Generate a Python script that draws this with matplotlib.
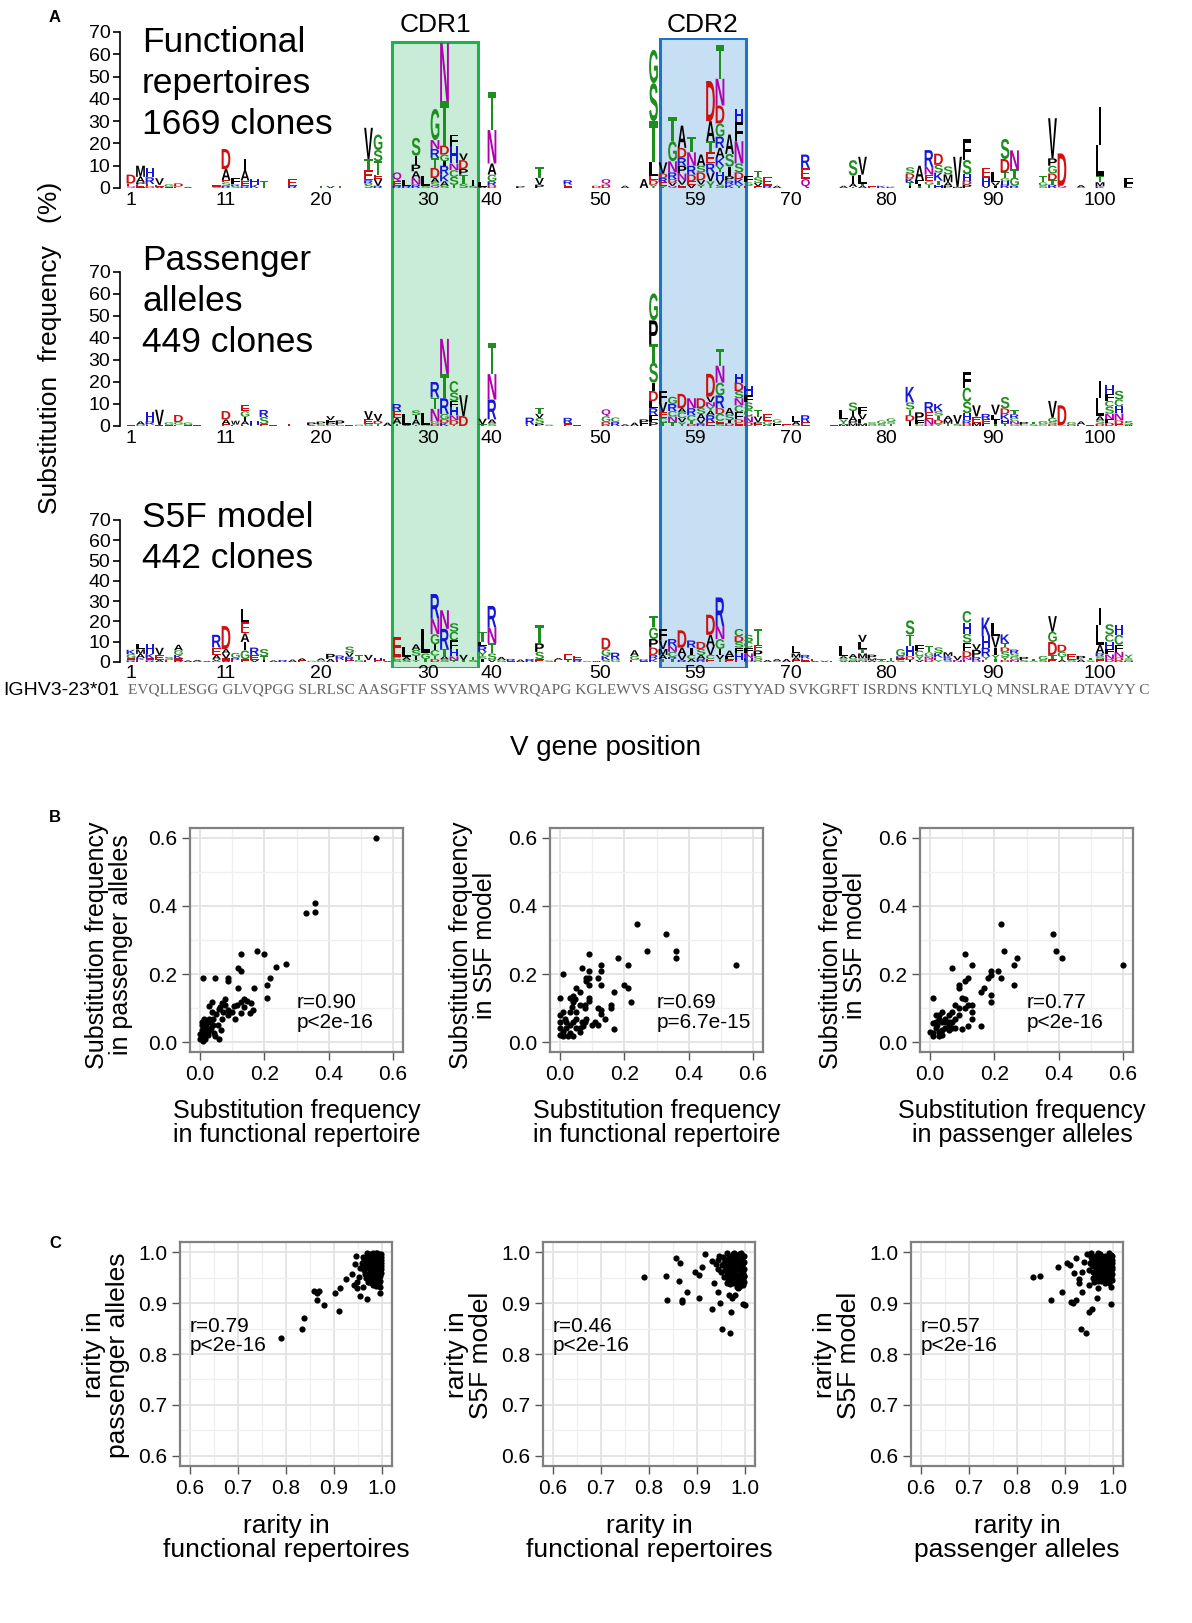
import matplotlib
matplotlib.use("Agg")
import matplotlib.pyplot as plt
from matplotlib.font_manager import FontProperties
from matplotlib.patches import PathPatch, Rectangle
from matplotlib.textpath import TextPath
from matplotlib.transforms import Affine2D
from matplotlib.ticker import MultipleLocator

plt.rcParams["font.family"] = ["Liberation Sans", "DejaVu Sans"]

W, H = 1192, 1623

# ---------------- panel A: substitution logos ----------------
# column -> stacked letters, bottom to top, letter + height in %
functional = {
    1: "Q0.8 E1.2 D4", 2: "E1.5 P1 A2.5 M5", 3: "D0.8 E1 R3 H4", 4: "A0.6 E0.8 V3",
    5: "E0.5 G1.2", 6: "E0.6 D1.5", 7: "A0.5", 10: "S0.6 E0.6",
    11: "R1 S1.5 E1 A5 D9", 12: "S0.8 R0.8 F3", 13: "R0.8 E2.5 A4.5 I5", 14: "K1.5 H2.5",
    15: "T3", 18: "R1 E3", 21: "T1", 22: "V0.8", 23: "T1",
    26: "S2 R1.5 E4.5 T5 V14", 27: "R1 V3 E2 T6 S5 G7", 29: "R1 E2 Q4", 30: "R1 L2.5",
    31: "R1.5 N3 A3 P3 I4 S8", 32: "S1 L4.5", 33: "Q1 S1.5 A2 D4.5 T4.5 R4 N4 G14",
    34: "S1 A2 K3 R4 I2 G3 D4 T20 N26", 35: "T1.4 S3.6 C3 N3 H8 F5", 36: "S2 T4 P2.5 D4 V3",
    37: "S1 I2.5", 38: "A0.6 L2", 39: "D1 R2 G3 A5 N15 T17", 42: "P0.8", 44: "P1.5 V3 T5",
    47: "E1.5 R2", 50: "D1", 51: "D1.5 Q2.5", 53: "A1", 55: "A4",
    56: "Y1.5 D2 E2 L6 T18.5 S17 G15", 57: "Y1 E1.5 R2 D2 V5", 58: "Q1 V1.5 D1.5 R3 N5 G9 T11",
    59: "E1.5 V2 N3 P3.5 R3.5 D4.5 A10", 60: "V1.5 E1.5 D3 R4 N6 T7", 61: "Y1.5 V2 D3.5 S3 A5",
    62: "Y3 V4 R4 E5 T5 A9 D18", 63: "S1.5 V2.5 H3 Y3 K3.5 A4.5 R5 G6 D8 N12 T15",
    64: "K1.5 R1.8 P2 I4.3 S5.7 A8.7", 65: "Y1.5 K2.5 D3 S4 N10 F8.7 H5.7", 66: "E1 S1.5 F3",
    67: "E0.8 V1.5 S2.5 T3", 68: "R1 E4", 69: "A1", 72: "Q4 E5 R6", 76: "A1",
    77: "T0.5 A1.5 I3.5 S7", 78: "A1 T1 L4 V8", 79: "E0.8", 80: "K1", 81: "K0.6",
    83: "I1 T1.5 K1.8 D2.2 S2.8", 84: "T1 I1 F1.5 A6.5", 85: "T1.5 G1.5 E3 N3.5 R7.5",
    86: "H1.5 T1.8 K3.6 S3.5 D5", 87: "P1 A1.6 M3.5 S3.6", 88: "M0.5 V13.5",
    89: "P1.5 D1.8 H2.8 S6.5 F9.3", 91: "V1 H3.7 E4.3", 92: "I1 V1.5 L4.5",
    93: "R1.5 H1.5 G1.4 T2.6 D6 S9", 94: "R1 G3.7 T3.6 N8.6", 97: "S1.2 G1.3 T3",
    98: "R1.5 T2 D3 G3.5 P3.3 V18", 99: "Q1 D14.5", 101: "V0.3 A1",
    103: "K0.8 M1.8 T2.8 L14.1 I17", 106: "E0.4 F4.3",
}
passenger = {
    1: "E0.5", 2: "G0.6 A1.5", 3: "E0.6 R1.4 H4.5", 4: "E0.4 V7", 5: "E0.5 G1.2",
    6: "E0.6 G1.2 D3.2", 7: "E0.4 G1.2", 8: "E0.5", 11: "E0.8 A2.2 D3.8", 12: "E0.6 W1.8",
    13: "E0.6 A1.6 I2 G2.5 E2.7", 14: "E0.6 H1.5", 15: "E0.8 S3.3 R3.2", 16: "E0.4", 18: "E1",
    20: "A0.4 P1.2", 21: "S0.8 P1.2", 22: "G0.5 P1 F1.2 V1.8", 23: "S0.5 P2", 24: "E0.5",
    25: "G0.6", 26: "G1 E2 V3.8", 27: "T1 D1.3 V3.2", 28: "A1.5", 29: "T1 A2.6 E3.2 R3.2",
    30: "A0.4 L5.1", 31: "T0.6 A2.4 I1.9 S2.2", 32: "G0.4 L5.3", 33: "D1 G1 N5.8 T5.1 R7.1",
    34: "K1.5 D1.5 G2.5 R7.1 T11 N16", 35: "T0.6 D2 N2.3 H3.9 F2.5 S3.9 C5.2", 36: "D4.5 V9.5",
    38: "T0.8 V2.5", 39: "S1.2 A1.8 R9 N11.6 T14.2", 43: "E0.6 R3.2", 44: "P1 S2.6 V1.9 T2.6",
    45: "S0.6", 47: "E1.2 R2.5", 48: "E0.4", 51: "R0.6 D1.2 G2.6 Q3.2", 52: "R1.9 C2",
    53: "A0.8", 54: "A1.5", 55: "F1.2 P1.8",
    56: "P1.7 F3.2 R3.2 L3.2 D4.6 I3.8 S9 T8.4 P10.9 G12.3", 57: "T1.6 C2 E2.8 V4.5 F5",
    58: "T1.8 N2.5 C2.5 R3.2 G3.3", 59: "Y1.7 V1.9 C2.6 A1.9 D6.5", 60: "D1 T1.3 C2.6 R3.2 N4.5",
    61: "R1.2 V1.8 A2.5 S2.6 D4.5", 62: "E1.7 R3.2 A2 Y2 N1.9 V2.6 D10.3",
    63: "S1 E1.3 C3.2 D2.6 R5.8 G5.8 N7.7 T7.6", 64: "D1.2 I1.4 S2.6 A3",
    65: "E1.5 D1.5 F3.2 C3.2 N3.2 S3.3 D3.8 H3.9", 66: "D1.7 N2.6 C3.2 S3.2 F3.2 H4.5",
    67: "E0.8 P0.9 V2.6 T3.2", 68: "R0.5 G1.8 E3.2", 69: "F1.5 G1.5", 70: "E0.8",
    71: "S0.5 A1.5 L2.5", 72: "E1.7 R3.2", 75: "E0.5", 76: "M0.8 Y2.2 L4.5",
    77: "M1.2 P1 A2.3 I2.3 S3.9", 78: "M1.2 L1.8 V2.5 F3.3", 79: "G0.5 S1.2", 80: "S1 G1.5",
    81: "T1 S1 G1.5", 83: "I2.3 D2.6 T2.6 S3.2 K7.1", 84: "C1 F1.6 P3.6", 85: "D0.6 N2.6 E3.2 R4.5",
    86: "Y1 D1.8 T1.9 S2 K3.3", 87: "T1 M1.7 A1.9", 88: "S1 V4", 89: "D1 R1.6 H3.2 S5.2 C6.4 F7.1",
    90: "M1.5 E2.8 V5.1", 91: "L1 E2 R2.5", 92: "T1 I1.6 L2.6 V4.5", 93: "T1.2 H1.7 K2.5 D2.6 S5.2",
    94: "G0.8 N1.4 C1.3 R1.8 T2", 95: "C0.6 P1.2", 96: "S0.8 T1", 97: "C0.8 G1.5",
    98: "D0.8 S1 G1.9 V7.7", 99: "G0.4 D9", 100: "D0.6 G1.2", 101: "E0.6 A1.5", 102: "E0.5",
    103: "D1 S1.5 A1.9 L8.4 I7.7", 104: "D1.5 F1.5 N2.6 S3.2 C2.6 F3.2 H3.9",
    105: "E0.8 D1.7 N3.2 H3.2 C3.2 S3.9", 106: "W0.5 S1.8",
}
s5f = {
    1: "R0.8 E1 G2 K2.2", 2: "E1 K1 A2 M2.2 L2.8", 3: "R0.8 E1 K2.3 H5", 4: "A1 E2.5 V3.5",
    5: "E1 S1.5", 6: "R0.6 E1.2 K1.7 G2.2 A2.8", 7: "A0.8", 8: "R0.4 A0.6", 9: "A0.5",
    10: "D0.5 V0.8 A2.2 E3.6 R6.3", 11: "W0.6 E1.2 V2.4 A2.2 D11.3", 12: "E1 R1 G2.5",
    13: "E1.4 G4.3 I4.2 A4.2 E5.7 L6.4", 14: "V1 E2.5 R3.6", 15: "I1 T1.8 S3.6", 16: "A0.8",
    17: "R1", 18: "A1.2", 19: "E0.8 A1", 20: "G0.6", 21: "G0.8 A1", 22: "A1.5 P2.5",
    23: "E1 R2.2", 24: "E0.8 R1.8 V2 S3", 25: "G1 T2.5", 26: "E1 V2.5", 27: "E0.8 H1.2",
    28: "A0.5 E1", 29: "S1 C1.5 E9.9", 30: "S1 A1.5 L5", 31: "Y1 I2 S2.9 A2.8",
    32: "T1.5 G2.7 L12.1", 33: "D1.4 T1.7 C2.8 I2.8 G5 N7.7 R12.1", 34: "S1.4 A1.4 T3.6 R9.9 N9.2",
    35: "T0.8 N2 H3.6 F4.2 C4.3 S4.2", 36: "T1 V2.5", 37: "S1 T1.5",
    38: "I1.4 S1.4 Y2.2 R2.8 L2.1 T5", 39: "V1.2 S3 T5 N7.8 R10.6", 40: "G1 A1.5", 41: "E0.5 R1",
    42: "A1.2", 43: "R1.5", 44: "E1.4 S3.6 P4.2 T9.2", 45: "S0.8", 46: "E1 A1", 47: "T1.2 E2.5",
    48: "R1 E2.2", 49: "S0.5", 50: "W0.5", 51: "S1 K2 G3.3 D5.6", 52: "G1.2 R3.4", 54: "E1 G2 A2.8",
    55: "E0.5 R0.8", 56: "K1.5 R2 D3.6 P4.2 G5.7 T5.6", 57: "T1.5 A2 M2.9 V4.2 F5.7",
    58: "T1.5 R1 C2.5 N2.8 R3.5", 59: "R1 V2.5 A3.6 D8.5", 60: "A1.5 C2 I3.6 R3.5",
    61: "R1.5 A2 S2.9 D3.5", 62: "E1.5 C2 V4.3 A5.6 D9.9", 63: "T1.5 V2 I2.9 G4.9 N6.4 R14.1",
    64: "E1.3 F1.5 A2.8", 65: "E1.1 H3.1 F2.9 S2.8 D2.8 C3.6", 66: "D0.7 H1.4 N2.1 F2.9 C2.8 S3.5",
    67: "D0.7 S2.1 P2.9 E2.8 T7.8", 68: "A1", 69: "S0.5 A1", 70: "A1.5", 71: "E0.8 A1.4 M2 L3.6",
    72: "E1.7 R1.8", 73: "A0.5 E1", 74: "V0.6", 75: "E0.6", 76: "V0.6 S1.2 A1 L5",
    77: "M0.6 S1.4 A1.9", 78: "N0.8 S1 M2.4 T2.2 L3.5 V3.5", 79: "A0.8 M1 P1.8", 80: "S0.5 T0.8",
    81: "R0.5 T1.5", 82: "S0.8 E1 R1 G3.6", 83: "I1 D1.8 H5 T5.7 S7", 84: "V1 Y1.8 C2.8 F2.8",
    85: "D1.2 N1.5 G2 T3", 86: "Y1 E1.2 K2.2 S2.8", 87: "S0.8 R1 K1.2 M1.8", 88: "N1 V2",
    89: "E1 N1.4 D2.9 F4.2 S4.3 H5.6 C5.7", 90: "D0.6 R1.8 P3.6 V2.8", 91: "E1.2 Y1.5 R4.3 H5.6 K9.3",
    92: "T1.5 Y2 I3.6 V5.6 L6.4", 93: "D1 Y1.5 S2.6 D2.1 T2.1 K4.3", 94: "N1 G1.6 S1.5 R2",
    95: "S1 P1.5", 96: "S0.6 T1", 97: "S1 G2", 98: "E1.4 T2.1 D6.4 G5 V7.7", 99: "A1 T1.5 G2.5 D3.5",
    100: "S1.2 E2.6", 101: "A1.2 P1.8", 102: "S0.8 T1.4", 103: "E1.4 S1.4 R1.4 A4.2 L9.9 I8.5",
    104: "D1.5 N2.2 F2.8 H3.5 C3.6 S5", 105: "R0.6 D1.6 N2.8 F3.5 C4.9 H5", 106: "N0.6 S1.2 Y1.8",
}
logo_sets = [functional, passenger, s5f]
logo_titles = ["Functional\nrepertoires\n1669 clones", "Passenger\nalleles\n449 clones", "S5F model\n442 clones"]
pos_ticks = [1, 11, 21, 32.3, 38.9, 50.4, 60.4, 70.5, 80.5, 91.7, 103]
pos_labels = ["1", "11", "20", "30", "40", "50", "59", "70", "80", "90", "100"]
freq_ticks = [0, 10, 20, 30, 40, 50, 60, 70]
cdr_names = ["CDR1", "CDR2"]
cdr_spans = [(28.5, 37.5), (56.7, 65.7)]
germline = "EVQLLESGG GLVQPGG SLRLSC AASGFTF SSYAMS WVRQAPG KGLEWVS AISGSG GSTYYAD SVKGRFT ISRDNS KNTLYLQ MNSLRAE DTAVYY C"

# ---------------- panel B: substitution frequency scatter ----------------
b_func_vs_pass = [
    (0.548, 0.599), (0.328, 0.378), (0.356, 0.383), (0.358, 0.409), (0.178, 0.269), (0.199, 0.260),
    (0.128, 0.260), (0.267, 0.229), (0.237, 0.220), (0.118, 0.219), (0.128, 0.210), (0.219, 0.188),
    (0.207, 0.169), (0.207, 0.129), (0.168, 0.158), (0.118, 0.158), (0.008, 0.189), (0.047, 0.189),
    (0.088, 0.189), (0.088, 0.179), (0.158, 0.115), (0.164, 0.093), (0.156, 0.087), (0.128, 0.087),
    (0.108, 0.068), (0.138, 0.128), (0.126, 0.117), (0.116, 0.109), (0.078, 0.128), (0.068, 0.115),
    (0.078, 0.109), (0.098, 0.088), (0.088, 0.081), (0.068, 0.069), (0.058, 0.098), (0.037, 0.117),
    (0.027, 0.107), (0.037, 0.088), (0.027, 0.069), (0.017, 0.060), (0.007, 0.050), (0.010, 0.031),
    (0.005, 0.017), (0.015, 0.008), (0.025, 0.022), (0.035, 0.041), (0.045, 0.027), (0.058, 0.010),
    (0.047, 0.017), (0.066, 0.036), (0.027, 0.036), (0.017, 0.041), (0.005, 0.036), (0.000, 0.024),
    (0.000, 0.010), (0.010, 0.003), (0.020, 0.050), (0.030, 0.060), (0.013, 0.069), (0.005, 0.060),
    (0.040, 0.069), (0.050, 0.084), (0.061, 0.103), (0.086, 0.093), (0.071, 0.088), (0.106, 0.107),
    (0.146, 0.122), (0.136, 0.103), (0.025, 0.031), (0.040, 0.050), (0.055, 0.050), (0.015, 0.020),
]
b_func_vs_s5f = [
    (0.548, 0.228), (0.240, 0.348), (0.331, 0.319), (0.361, 0.269), (0.361, 0.248), (0.270, 0.269),
    (0.179, 0.248), (0.210, 0.228), (0.200, 0.169), (0.210, 0.160), (0.220, 0.119), (0.169, 0.148),
    (0.169, 0.038), (0.091, 0.260), (0.129, 0.228), (0.129, 0.209), (0.069, 0.219), (0.091, 0.209),
    (0.081, 0.188), (0.091, 0.188), (0.081, 0.179), (0.091, 0.169), (0.119, 0.188), (0.129, 0.169),
    (0.010, 0.200), (0.091, 0.129), (0.050, 0.160), (0.061, 0.148), (0.040, 0.136), (0.030, 0.129),
    (0.040, 0.117), (0.000, 0.129), (0.061, 0.109), (0.079, 0.109), (0.079, 0.100), (0.050, 0.088),
    (0.030, 0.088), (0.010, 0.088), (0.000, 0.079), (0.119, 0.100), (0.129, 0.093), (0.129, 0.084),
    (0.159, 0.109), (0.159, 0.100), (0.139, 0.069), (0.119, 0.050), (0.109, 0.060), (0.099, 0.050),
    (0.079, 0.060), (0.069, 0.060), (0.061, 0.041), (0.061, 0.031), (0.040, 0.060), (0.030, 0.050),
    (0.020, 0.041), (0.010, 0.031), (0.000, 0.060), (0.000, 0.022), (0.010, 0.017), (0.025, 0.017),
    (0.040, 0.017), (0.000, 0.041), (0.020, 0.060), (0.050, 0.069), (0.081, 0.069), (0.038, 0.103),
    (0.048, 0.126), (0.015, 0.069), (0.030, 0.027), (0.050, 0.041), (0.071, 0.046), (0.091, 0.121),
]
b_pass_vs_s5f = [
    (0.600, 0.228), (0.381, 0.319), (0.391, 0.269), (0.411, 0.248), (0.220, 0.348), (0.230, 0.269),
    (0.270, 0.248), (0.260, 0.228), (0.260, 0.169), (0.220, 0.188), (0.212, 0.209), (0.190, 0.209),
    (0.190, 0.198), (0.179, 0.188), (0.169, 0.160), (0.159, 0.148), (0.190, 0.139), (0.190, 0.119),
    (0.159, 0.048), (0.109, 0.260), (0.130, 0.228), (0.070, 0.219), (0.119, 0.188), (0.109, 0.179),
    (0.090, 0.169), (0.090, 0.160), (0.101, 0.129), (0.010, 0.129), (0.119, 0.109), (0.130, 0.109),
    (0.109, 0.100), (0.130, 0.088), (0.130, 0.069), (0.119, 0.048), (0.101, 0.038), (0.079, 0.109),
    (0.069, 0.088), (0.058, 0.081), (0.090, 0.079), (0.079, 0.069), (0.069, 0.060), (0.058, 0.048),
    (0.048, 0.041), (0.038, 0.060), (0.038, 0.088), (0.028, 0.079), (0.018, 0.060), (0.010, 0.055),
    (0.018, 0.041), (0.028, 0.031), (0.008, 0.027), (0.000, 0.031), (0.010, 0.017), (0.028, 0.017),
    (0.038, 0.020), (0.048, 0.060), (0.058, 0.060), (0.069, 0.041), (0.048, 0.069), (0.028, 0.069),
    (0.018, 0.079), (0.038, 0.036), (0.058, 0.036), (0.079, 0.041), (0.090, 0.100), (0.109, 0.126),
    (0.022, 0.050),
]
b_sets = [b_func_vs_pass, b_func_vs_s5f, b_pass_vs_s5f]
b_notes = ["r=0.90\np<2e-16", "r=0.69\np=6.7e-15", "r=0.77\np<2e-16"]
b_ylabels = ["Substitution frequency\nin passenger alleles", "Substitution frequency\nin S5F model",
             "Substitution frequency\nin S5F model"]
b_xlabels = ["Substitution frequency\nin functional repertoire", "Substitution frequency\nin functional repertoire",
             "Substitution frequency\nin passenger alleles"]
b_ticks = [0.0, 0.2, 0.4, 0.6]

# ---------------- panel C: rarity scatter ----------------
c_func_vs_pass = [
    (0.791, 0.832), (0.834, 0.850), (0.838, 0.871), (0.880, 0.896), (0.910, 0.885), (0.865, 0.907),
    (0.865, 0.920), (0.858, 0.924), (0.870, 0.924), (0.902, 0.920), (0.912, 0.929), (0.925, 0.948),
    (0.945, 0.977), (0.947, 0.992), (0.938, 0.958), (0.941, 0.935), (0.955, 0.913), (0.969, 0.908),
    (0.948, 0.929), (0.961, 0.932), (0.997, 0.932), (0.995, 0.920), (0.982, 0.935), (0.972, 0.942),
    (0.988, 0.942), (0.952, 0.951), (0.948, 0.942),
    (0.962, 0.985), (0.965, 0.975), (0.963, 0.965), (0.968, 0.992), (0.970, 0.980), (0.972, 0.968),
    (0.971, 0.955), (0.975, 0.997), (0.977, 0.987), (0.978, 0.975), (0.976, 0.962), (0.979, 0.950),
    (0.982, 0.993), (0.984, 0.981), (0.983, 0.970), (0.985, 0.958), (0.986, 0.946), (0.988, 0.998),
    (0.990, 0.988), (0.989, 0.976), (0.991, 0.964), (0.992, 0.952), (0.994, 0.996), (0.996, 0.984),
    (0.995, 0.972), (0.997, 0.960), (0.998, 0.991), (0.999, 0.978), (0.999, 0.966), (0.993, 0.940),
    (0.980, 0.940), (0.958, 0.978), (0.955, 0.968), (0.966, 0.950), (0.974, 0.942), (0.987, 0.934),
    (0.999, 0.997), (0.981, 0.999), (0.969, 0.998),
    (0.960, 0.990), (0.964, 0.958), (0.967, 0.985), (0.969, 0.972), (0.973, 0.990), (0.974, 0.980),
    (0.975, 0.968), (0.978, 0.957), (0.980, 0.985), (0.981, 0.976), (0.982, 0.964), (0.984, 0.952),
    (0.986, 0.992), (0.987, 0.982), (0.988, 0.970), (0.990, 0.958), (0.991, 0.946), (0.993, 0.992),
    (0.994, 0.979), (0.995, 0.966), (0.996, 0.954), (0.998, 0.984), (0.998, 0.972), (0.999, 0.959),
    (0.996, 0.944), (0.990, 0.999), (0.985, 0.940), (0.978, 0.946),
]
c_func_vs_s5f = [
    (0.791, 0.951), (0.835, 0.954), (0.837, 0.907), (0.856, 0.989), (0.864, 0.978), (0.863, 0.943),
    (0.869, 0.907), (0.869, 0.903), (0.880, 0.922), (0.896, 0.962), (0.905, 0.956), (0.910, 0.970),
    (0.904, 0.910), (0.918, 0.996), (0.932, 0.888), (0.935, 0.940), (0.931, 0.983), (0.943, 0.967),
    (0.945, 0.922), (0.948, 0.901), (0.953, 0.850), (0.970, 0.842), (0.971, 0.882), (0.967, 0.916),
    (0.973, 0.910), (0.997, 0.899), (1.000, 0.897), (0.983, 0.932), (0.947, 0.992), (0.940, 0.977),
    (0.957, 0.951), (0.963, 0.939), (0.980, 0.916),
    (0.958, 0.985), (0.960, 0.972), (0.962, 0.960), (0.965, 0.948), (0.966, 0.993), (0.968, 0.980),
    (0.970, 0.967), (0.972, 0.955), (0.974, 0.943), (0.975, 0.997), (0.977, 0.986), (0.978, 0.973),
    (0.980, 0.961), (0.981, 0.949), (0.983, 0.937), (0.984, 0.992), (0.986, 0.979), (0.987, 0.966),
    (0.989, 0.954), (0.990, 0.942), (0.991, 0.998), (0.993, 0.985), (0.994, 0.972), (0.996, 0.960),
    (0.997, 0.947), (0.998, 0.993), (0.999, 0.980), (0.999, 0.967), (0.952, 0.975), (0.950, 0.962),
    (0.945, 0.985), (0.999, 0.953), (0.985, 0.930), (0.962, 0.998), (0.978, 0.999), (0.992, 0.935),
    (0.955, 0.990), (0.957, 0.978), (0.959, 0.965), (0.963, 0.984), (0.965, 0.971), (0.967, 0.958),
    (0.969, 0.946), (0.971, 0.990), (0.973, 0.976), (0.975, 0.963), (0.977, 0.951), (0.979, 0.992),
    (0.981, 0.980), (0.982, 0.967), (0.984, 0.955), (0.986, 0.943), (0.988, 0.996), (0.989, 0.985),
    (0.990, 0.972), (0.992, 0.960), (0.993, 0.948), (0.995, 0.992), (0.996, 0.979), (0.997, 0.966),
    (0.998, 0.954), (0.999, 0.941), (0.988, 0.932), (0.996, 0.936), (0.970, 0.938), (0.976, 0.940),
]
c_pass_vs_s5f = [
    (0.833, 0.951), (0.849, 0.953), (0.871, 0.907), (0.886, 0.970), (0.895, 0.922), (0.905, 0.978),
    (0.911, 0.975), (0.912, 0.903), (0.918, 0.901), (0.923, 0.907), (0.919, 0.959), (0.924, 0.989),
    (0.929, 0.947), (0.935, 0.922), (0.934, 0.850), (0.944, 0.842), (0.951, 0.882), (0.956, 0.888),
    (0.966, 0.910), (0.969, 0.929), (0.997, 0.899), (0.997, 0.932), (0.939, 0.980), (0.946, 0.996),
    (0.936, 0.961), (0.929, 0.939), (0.950, 0.935), (0.960, 0.942), (0.980, 0.945),
    (0.957, 0.985), (0.960, 0.972), (0.962, 0.958), (0.964, 0.993), (0.967, 0.980), (0.969, 0.967),
    (0.971, 0.953), (0.973, 0.997), (0.975, 0.986), (0.977, 0.973), (0.979, 0.960), (0.981, 0.948),
    (0.983, 0.992), (0.985, 0.979), (0.987, 0.966), (0.989, 0.953), (0.991, 0.998), (0.993, 0.985),
    (0.995, 0.972), (0.997, 0.959), (0.998, 0.946), (0.999, 0.992), (0.999, 0.979), (0.999, 0.966),
    (0.952, 0.978), (0.950, 0.965), (0.955, 0.998), (0.968, 0.999), (0.984, 0.940), (0.970, 0.943),
    (0.958, 0.950),
    (0.954, 0.990), (0.956, 0.975), (0.959, 0.962), (0.962, 0.985), (0.964, 0.970), (0.966, 0.956),
    (0.968, 0.990), (0.970, 0.977), (0.972, 0.962), (0.974, 0.950), (0.976, 0.992), (0.978, 0.980),
    (0.980, 0.967), (0.982, 0.955), (0.984, 0.985), (0.986, 0.972), (0.988, 0.960), (0.990, 0.947),
    (0.991, 0.990), (0.993, 0.978), (0.994, 0.965), (0.996, 0.952), (0.997, 0.995), (0.998, 0.984),
    (0.999, 0.971), (0.999, 0.958), (0.992, 0.940), (0.976, 0.944), (0.963, 0.945),
]
c_sets = [c_func_vs_pass, c_func_vs_s5f, c_pass_vs_s5f]
c_notes = ["r=0.79\np<2e-16", "r=0.46\np<2e-16", "r=0.57\np<2e-16"]
c_ylabels = ["rarity in\npassenger alleles", "rarity in\nS5F model", "rarity in\nS5F model"]
c_xlabels = ["rarity in\nfunctional repertoires", "rarity in\nfunctional repertoires",
             "rarity in\npassenger alleles"]
c_ticks = [0.6, 0.7, 0.8, 0.9, 1.0]

AA_COLORS = {}
for aa in "GSTYC":
    AA_COLORS[aa] = "#1e8f1e"
for aa in "NQ":
    AA_COLORS[aa] = "#b000b0"
for aa in "DE":
    AA_COLORS[aa] = "#d01010"
for aa in "KRH":
    AA_COLORS[aa] = "#1717d6"

LETTER_FONT = FontProperties(family="Liberation Sans", weight="bold")
_glyph_cache = {}


def fig_rect(left, top, right, bottom):
    return [left / W, 1 - bottom / H, (right - left) / W, (bottom - top) / H]


def glyph(ch):
    if ch not in _glyph_cache:
        path = TextPath((0, 0), ch, size=1, prop=LETTER_FONT)
        _glyph_cache[ch] = (path, path.get_extents())
    return _glyph_cache[ch]


def draw_letter(ax, ch, x, y0, h):
    path, ext = glyph(ch)
    w = 0.3 if ch == "I" else 0.92
    tr = (Affine2D().translate(-ext.x0, -ext.y0)
          .scale(w / ext.width, h / ext.height)
          .translate(x - w / 2, y0))
    ax.add_patch(PathPatch(tr.transform_path(path), fc=AA_COLORS.get(ch, "black"), ec="none", lw=0))


def draw_logo(ax, columns):
    for col, spec in columns.items():
        y = 0.0
        for tok in spec.split():
            h = float(tok[1:])
            draw_letter(ax, tok[0], col, y, h)
            y += h


fig = plt.figure(figsize=(W / 100, H / 100), dpi=100)

LOGO_XLIM = (-0.15, 109.5)
LOGO_LEFT = 131 + (LOGO_XLIM[0] - 1) * 9.5
LOGO_RIGHT = 131 + (LOGO_XLIM[1] - 1) * 9.5

# CDR boxes behind the logos
box_ax = fig.add_axes(fig_rect(LOGO_LEFT, 38, LOGO_RIGHT, 668))
box_ax.set_xlim(*LOGO_XLIM)
box_ax.set_ylim(0, 1)
box_ax.axis("off")
box_ax.set_zorder(0)
cdr_style = [("#c8ecd7", "#22b04b", (668 - 42) / 630), ("#c7dff3", "#1b74c5", 1.0)]
for name, (x0, x1), (fc, ec, top) in zip(cdr_names, cdr_spans, cdr_style):
    box_ax.add_patch(Rectangle((x0, 0), x1 - x0, top, fc=fc, ec=ec, lw=2.2))
    box_ax.text((x0 + x1) / 2, (668 - 25) / 630, name, ha="center", va="center",
                fontsize=19, clip_on=False)

logo_geom = [(188, 2.229, 26), (426, 2.2, 244), (662, 2.03, 501)]
for columns, title, (base, unit, title_top) in zip(logo_sets, logo_titles, logo_geom):
    ymin, ymax = -1, 72
    ax = fig.add_axes(fig_rect(LOGO_LEFT, base - ymax * unit, LOGO_RIGHT, base - ymin * unit))
    ax.set_zorder(1)
    ax.patch.set_visible(False)
    ax.set_xlim(*LOGO_XLIM)
    ax.set_ylim(ymin, ymax)
    draw_logo(ax, columns)
    for side in ("top", "right", "bottom"):
        ax.spines[side].set_visible(False)
    ax.spines["left"].set_bounds(0, 70)
    ax.spines["left"].set_linewidth(1.2)
    ax.set_yticks(freq_ticks)
    ax.set_xticks(pos_ticks)
    ax.set_xticklabels(pos_labels)
    ax.tick_params(axis="y", length=5, width=1.2, labelsize=14, pad=2)
    ax.tick_params(axis="x", length=0, labelsize=14, pad=1)
    fig.text(142 / W, 1 - title_top / H, title, ha="left", va="top", fontsize=25.5, linespacing=1.3)

fig.text(50 / W, 1 - 348 / H, "Substitution  frequency   (%)", rotation=90,
         ha="center", va="center", fontsize=19)
fig.text(605 / W, 1 - 748 / H, "V gene position", ha="center", va="center", fontsize=20)
fig.text(120 / W, 1 - 690 / H, "IGHV3-23*01", ha="right", va="center", fontsize=14)
seq_text = fig.text(128 / W, 1 - 690 / H, germline, ha="left", va="center", fontsize=12,
                    family="Liberation Serif", color="#666666")
fig.canvas.draw()
seq_w = seq_text.get_window_extent().width
seq_text.set_fontsize(12 * (1146 - 128) / seq_w)

fig.text(55 / W, 1 - 18 / H, "A", ha="center", va="center", fontsize=12, fontweight="bold")
fig.text(55 / W, 1 - 817 / H, "B", ha="center", va="center", fontsize=12, fontweight="bold")
fig.text(55 / W, 1 - 1244 / H, "C", ha="center", va="center", fontsize=12, fontweight="bold")


def scatter_axes(rect, xlim, ylim, ticks, minor):
    ax = fig.add_axes(rect)
    ax.set_xlim(*xlim)
    ax.set_ylim(*ylim)
    ax.set_xticks(ticks)
    ax.set_yticks(ticks)
    ax.xaxis.set_minor_locator(MultipleLocator(minor))
    ax.yaxis.set_minor_locator(MultipleLocator(minor))
    ax.grid(True, which="major", color="#e3e3e3", lw=1.3)
    ax.grid(True, which="minor", color="#efefef", lw=0.9)
    ax.set_axisbelow(True)
    for s in ax.spines.values():
        s.set_color("#808080")
        s.set_linewidth(1.6)
    ax.tick_params(which="major", direction="out", length=6, width=1, color="#555555",
                   labelsize=15, pad=3)
    ax.tick_params(which="minor", length=0)
    return ax


b_lefts = [190, 550, 920]
b_ylabel_x = [109, 473, 843]
b_xlabel_x = [297, 657, 1022]
for pts, note, yl, xl, left, ylx, xlx in zip(b_sets, b_notes, b_ylabels, b_xlabels,
                                            b_lefts, b_ylabel_x, b_xlabel_x):
    ax = scatter_axes(fig_rect(left, 828, left + 213, 1052), (-0.031, 0.631), (-0.029, 0.629),
                      b_ticks, 0.1)
    ax.set_xticklabels([f"{t:.1f}" for t in b_ticks])
    ax.set_yticklabels([f"{t:.1f}" for t in b_ticks])
    xs, ys = zip(*pts)
    ax.scatter(xs, ys, s=20, c="black", linewidths=0, zorder=3)
    ax.text(0.30, 0.03, note, ha="left", va="bottom", fontsize=15, linespacing=1.05)
    fig.text(ylx / W, 1 - 945 / H, yl, rotation=90, ha="center", va="center", fontsize=18,
             linespacing=1.0)
    fig.text(xlx / W, 1 - 1123 / H, xl, ha="center", va="center", fontsize=18, linespacing=1.05)

c_lefts = [180, 543, 911]
c_ylabel_x = [106, 469, 837]
c_xlabel_x = [286, 649, 1017]
for pts, note, yl, xl, left, ylx, xlx in zip(c_sets, c_notes, c_ylabels, c_xlabels,
                                            c_lefts, c_ylabel_x, c_xlabel_x):
    ax = scatter_axes(fig_rect(left, 1242, left + 212, 1466), (0.58, 1.021), (0.58, 1.02),
                      c_ticks, 0.05)
    ax.set_xticklabels([f"{t:.1f}" for t in c_ticks])
    ax.set_yticklabels([f"{t:.1f}" for t in c_ticks])
    xs, ys = zip(*pts)
    ax.scatter(xs, ys, s=20, c="black", linewidths=0, zorder=3)
    ax.text(0.60, 0.836, note, ha="left", va="center", fontsize=15, linespacing=1.0)
    fig.text(ylx / W, 1 - 1355 / H, yl, rotation=90, ha="center", va="center", fontsize=19,
             linespacing=1.0)
    fig.text(xlx / W, 1 - 1538 / H, xl, ha="center", va="center", fontsize=19, linespacing=1.05)

fig.savefig("out.png", dpi=100)
